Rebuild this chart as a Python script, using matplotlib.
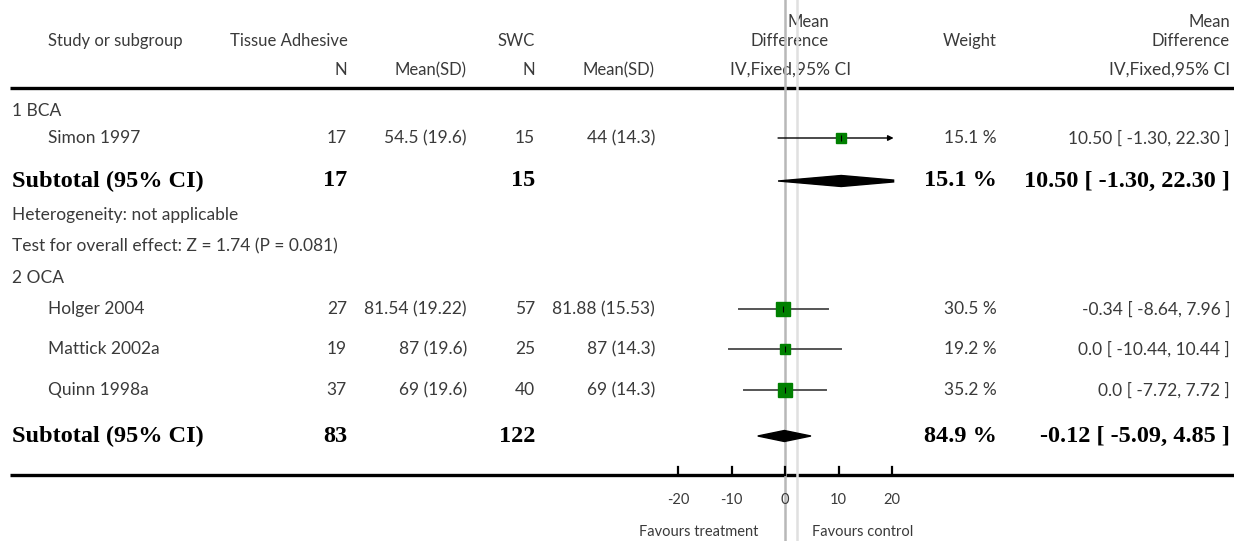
import numpy as np
import matplotlib.pyplot as plt
from matplotlib.patches import Polygon

### Data ###
studies = ["Simon 1997", "Holger 2004", "Mattick 2002a", "Quinn 1998a"]
n_ta = [17, 27, 19, 37]
msd_ta = ["54.5 (19.6)", "81.54 (19.22)", "87 (19.6)", "69 (19.6)"]
n_swc = [15, 57, 25, 40]
msd_swc = ["44 (14.3)", "81.88 (15.53)", "87 (14.3)", "69 (14.3)"]
md = [10.50, -0.34, 0.0, 0.0]
ci_lo = [-1.30, -8.64, -10.44, -7.72]
ci_hi = [22.30, 7.96, 10.44, 7.72]
weight = [15.1, 30.5, 19.2, 35.2]
ci_txt = ["10.50 [ -1.30, 22.30 ]", "-0.34 [ -8.64, 7.96 ]",
          "0.0 [ -10.44, 10.44 ]", "0.0 [ -7.72, 7.72 ]"]

sub_n_ta = [17, 83]
sub_n_swc = [15, 122]
sub_weight = [15.1, 84.9]
sub_md = [10.50, -0.12]
sub_lo = [-1.30, -5.09]
sub_hi = [22.30, 4.85]
sub_txt = ["10.50 [ -1.30, 22.30 ]", "-0.12 [ -5.09, 4.85 ]"]

ticks = [-20, -10, 0, 10, 20]
overall_line = 2.2  # light reference line

### Layout (pixel rows) ###
W, H = 1234, 541
study_y = [138, 309, 349, 390]
sub_y = [181, 436]
XCLIP = 20.3

SANS = ['Lato', 'DejaVu Sans']
SERIF = ['Liberation Serif', 'DejaVu Serif']
GREY = '#3a3a3a'
FSH = 12     # header
FS = 12.5    # body
FSB = 17.5   # bold rows

fig = plt.figure(figsize=(W / 100, H / 100), dpi=100)
ax = fig.add_axes([0, 0, 1, 1])
ax.set_xlim(0, W)
ax.set_ylim(H, 0)
ax.axis('off')

# forest plot axes: 0 at ~785px, 5.35px per unit
x0_px, ppu = 785, 5.35
left_px = x0_px - 25 * ppu
fx = fig.add_axes([left_px / W, 0, 50 * ppu / W, 1])
fx.set_xlim(-25, 25)
fx.set_ylim(H, 0)
fx.axis('off')

def txt(x, y, s, ha='left', bold=False, size=None, **kw):
    if bold:
        ax.text(x, y, s, ha=ha, va='center', fontsize=FSB, family=SERIF,
                fontweight='bold', color='black', **kw)
    else:
        ax.text(x, y, s, ha=ha, va='center', fontsize=size or FS, family=SANS,
                color=GREY, **kw)

# header
txt(48, 41, "Study or subgroup", size=FSH)
txt(230, 41, "Tissue Adhesive", size=FSH)
txt(535, 41, "SWC", ha='right', size=FSH)
txt(829, 22, "Mean", ha='right', size=FSH)
txt(829, 41, "Difference", ha='right', size=FSH)
txt(970, 41, "Weight", ha='center', size=FSH)
txt(1230, 22, "Mean", ha='right', size=FSH)
txt(1230, 41, "Difference", ha='right', size=FSH)
txt(347, 70, "N", ha='right', size=FSH)
txt(467, 70, "Mean(SD)", ha='right', size=FSH)
txt(535, 70, "N", ha='right', size=FSH)
txt(655, 70, "Mean(SD)", ha='right', size=FSH)
txt(851, 70, "IV,Fixed,95% CI", ha='right')
txt(1230, 70, "IV,Fixed,95% CI", ha='right')

ax.plot([10, W], [88, 88], color='black', lw=2.4, solid_capstyle='butt')
ax.plot([10, W], [475, 475], color='black', lw=2.4, solid_capstyle='butt')

# reference lines
fx.axvline(0, color='#b8b8b8', lw=1.8, zorder=0)
fx.axvline(overall_line, color='#e0e0e0', lw=1.8, zorder=0)

# subgroup labels
txt(12, 111, "1 BCA")
txt(12, 215, "Heterogeneity: not applicable")
txt(12, 246, "Test for overall effect: Z = 1.74 (P = 0.081)")
txt(12, 278, "2 OCA")

# studies
for i, s in enumerate(studies):
    y = study_y[i]
    txt(48, y, s)
    txt(347, y, str(n_ta[i]), ha='right')
    txt(467, y, msd_ta[i], ha='right')
    txt(535, y, str(n_swc[i]), ha='right')
    txt(655, y, msd_swc[i], ha='right')
    txt(997, y, f"{weight[i]} %", ha='right')
    txt(1230, y, ci_txt[i], ha='right')
    hi = min(ci_hi[i], XCLIP)
    if ci_hi[i] > XCLIP:
        fx.annotate('', xy=(hi, y), xytext=(ci_lo[i], y),
                    arrowprops=dict(arrowstyle='-|>', lw=1, color='black',
                                    mutation_scale=8, shrinkA=0, shrinkB=0))
    else:
        fx.plot([ci_lo[i], hi], [y, y], color='#555555', lw=1.4)
    side = 2.4 * np.sqrt(weight[i])
    fx.plot(md[i], y, marker='s', ms=side * 0.72, color='#008000',
            mec='#008000', zorder=3)
    fx.plot(md[i], y, marker='|', ms=4, color='black', mew=0.8, zorder=4)

# subtotals
for j in range(2):
    y = sub_y[j]
    txt(12, y, "Subtotal (95% CI)", bold=True)
    txt(347, y, str(sub_n_ta[j]), ha='right', bold=True)
    txt(535, y, str(sub_n_swc[j]), ha='right', bold=True)
    txt(997, y, f"{sub_weight[j]} %", ha='right', bold=True)
    txt(1230, y, sub_txt[j], ha='right', bold=True)
    h = 5.5
    lo, c, hi = sub_lo[j], sub_md[j], sub_hi[j]
    if hi > XCLIP:
        r = h * (hi - XCLIP) / (hi - c)
        pts = [(lo, y), (c, y - h), (XCLIP, y - r), (XCLIP, y + r), (c, y + h)]
    else:
        pts = [(lo, y), (c, y - h), (hi, y), (c, y + h)]
    fx.add_patch(Polygon(pts, closed=True, color='black', zorder=3))

# axis ticks
for t in ticks:
    fx.plot([t, t], [467, 475], color='black', lw=1.6)
    fx.text(t, 500, str(t), ha='center', va='center', fontsize=10.5,
            family=SANS, color=GREY)
fx.text(-5, 532, "Favours treatment", ha='right', va='center', fontsize=10.5,
        family=SANS, color=GREY)
fx.text(5, 532, "Favours control", ha='left', va='center', fontsize=10.5,
        family=SANS, color=GREY)

fig.savefig('out.png', dpi=100)
